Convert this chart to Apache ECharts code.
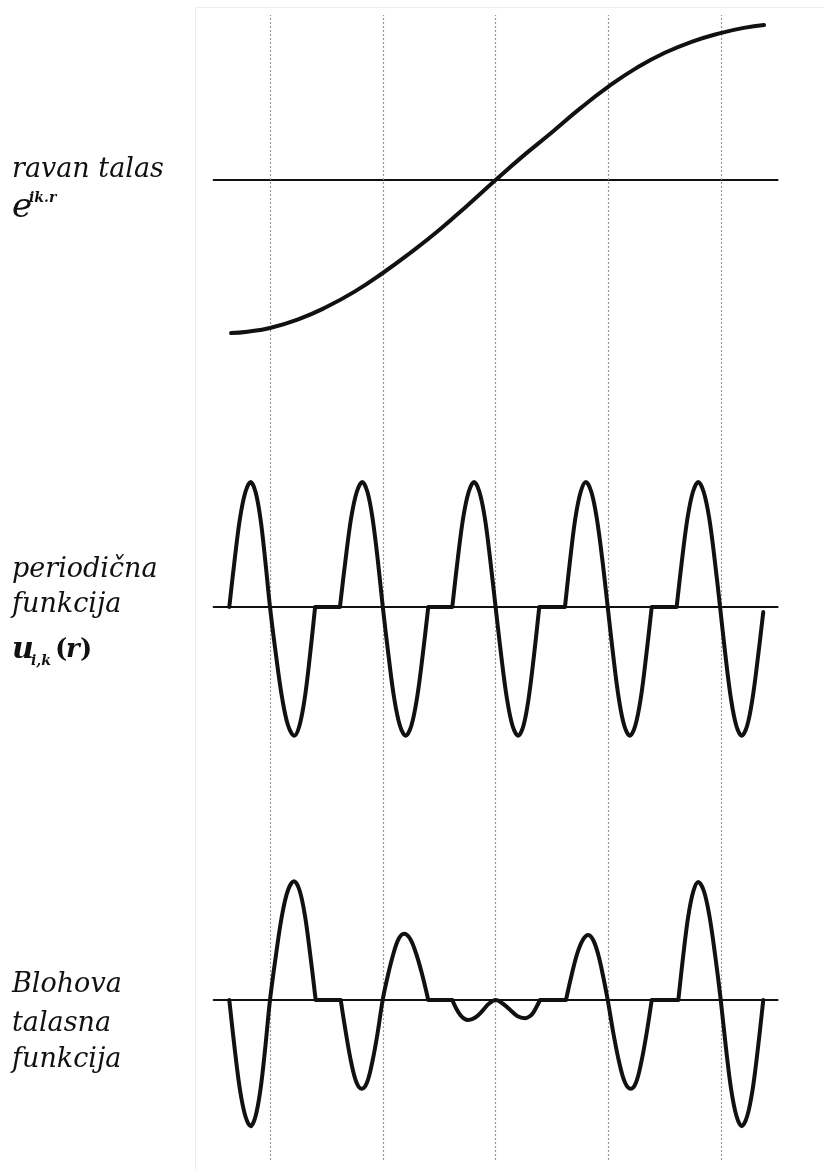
<!DOCTYPE html>
<html>
<head>
<meta charset="utf-8">
<script src="https://cdn.jsdelivr.net/npm/echarts@6/dist/echarts.min.js"></script>
<style>
  html, body { margin: 0; padding: 0; background: #fff; }
  #chart { width: 824px; height: 1171px; }
</style>
</head>
<body>
<div id="chart"></div>
<script>
// ---- data (x in lattice units: vertical lines at 1..5) ----
const gridlineX = [1, 2, 3, 4, 5];

// plane wave e^{ik.r} (real part), normalised amplitude
const planeWaveX = [0.655, 0.8, 1.0, 1.25, 1.5, 1.75, 2.0, 2.25, 2.5, 2.75, 3.0, 3.25, 3.5, 3.75, 4.0, 4.25, 4.5, 4.75, 5.0, 5.2, 5.38];
const planeWaveY = [-0.994, -0.985, -0.961, -0.905, -0.825, -0.725, -0.604, -0.47, -0.325, -0.165, 0, 0.16, 0.31, 0.465, 0.606, 0.728, 0.826, 0.9, 0.955, 0.988, 1.006];

// periodic function u_{i,k}(r); null separates drawn pieces
const periodicX = [
  0.639, 0.687, 0.734, 0.782, 0.829, 0.872, 0.915, 0.957, 1.0, 1.054, 1.108, 1.161, 1.215, 1.261, 1.308, 1.354, 1.40, null,
  1.40, 1.62, null,
  1.62, 1.67, 1.719, 1.769, 1.818, 1.864, 1.909, 1.955, 2.0, 2.051, 2.101, 2.152, 2.203, 2.253, 2.303, 2.353, 2.403, null,
  2.403, 2.616, null,
  2.616, 2.664, 2.712, 2.761, 2.809, 2.857, 2.905, 2.952, 3.0, 3.05, 3.10, 3.15, 3.20, 3.247, 3.293, 3.34, 3.387, null,
  3.387, 3.615, null,
  3.615, 3.661, 3.707, 3.754, 3.80, 3.849, 3.897, 3.946, 3.994, 4.043, 4.092, 4.141, 4.19, 4.238, 4.287, 4.335, 4.384, null,
  4.384, 4.605, null,
  4.605, 4.653, 4.701, 4.749, 4.797, 4.845, 4.894, 4.942, 4.99, 5.038, 5.086, 5.134, 5.182, 5.23, 5.278, 5.326, 5.373
];
const periodicY = [
  0, 0.38, 0.71, 0.92, 1.0, 0.92, 0.71, 0.38, 0, -0.39, -0.73, -0.95, -1.03, -0.95, -0.73, -0.39, 0, null,
  0, 0, null,
  0, 0.38, 0.71, 0.92, 1.0, 0.92, 0.71, 0.38, 0, -0.39, -0.73, -0.95, -1.03, -0.95, -0.73, -0.39, 0, null,
  0, 0, null,
  0, 0.38, 0.71, 0.92, 1.0, 0.92, 0.71, 0.38, 0, -0.39, -0.73, -0.95, -1.03, -0.95, -0.73, -0.39, 0, null,
  0, 0, null,
  0, 0.38, 0.71, 0.92, 1.0, 0.92, 0.71, 0.38, 0, -0.39, -0.73, -0.95, -1.03, -0.95, -0.73, -0.39, 0, null,
  0, 0, null,
  0, 0.38, 0.71, 0.92, 1.0, 0.92, 0.71, 0.38, 0, -0.39, -0.73, -0.95, -1.03, -0.95, -0.73, -0.40, -0.04
];

// Bloch wave function
const blochX = [
  0.639, 0.687, 0.734, 0.782, 0.829, 0.872, 0.915, 0.957, 1.0, 1.053, 1.107, 1.16, 1.213, 1.261, 1.309, 1.357, 1.405, null,
  1.405, 1.627, null,
  1.627, 1.674, 1.72, 1.767, 1.813, 1.86, 1.906, 1.953, 1.999, 2.046, 2.094, 2.141, 2.188, 2.242, 2.296, 2.35, 2.403, null,
  2.403, 2.616, null,
  2.616, 2.652, 2.687, 2.723, 2.758, 2.82, 2.88, 2.94, 3.0, 3.065, 3.13, 3.195, 3.26, 3.294, 3.327, 3.36, 3.394, null,
  3.394, 3.624, null,
  3.624, 3.674, 3.723, 3.773, 3.822, 3.865, 3.908, 3.951, 3.994, 4.045, 4.096, 4.147, 4.198, 4.245, 4.291, 4.338, 4.384, null,
  4.384, 4.62, null,
  4.62, 4.664, 4.708, 4.753, 4.797, 4.847, 4.896, 4.946, 4.996, 5.043, 5.089, 5.136, 5.182, 5.23, 5.278, 5.325, 5.373
];
const blochY = [
  0, -0.39, -0.72, -0.93, -1.01, -0.93, -0.72, -0.39, 0, 0.36, 0.68, 0.88, 0.95, 0.88, 0.68, 0.36, 0, null,
  0, 0, null,
  0, -0.27, -0.5, -0.66, -0.71, -0.66, -0.5, -0.27, 0, 0.2, 0.37, 0.49, 0.53, 0.49, 0.37, 0.2, 0, null,
  0, 0, null,
  0, -0.07, -0.12, -0.15, -0.16, -0.14, -0.09, -0.03, 0, -0.03, -0.08, -0.13, -0.145, -0.135, -0.11, -0.06, 0, null,
  0, 0, null,
  0, 0.2, 0.37, 0.48, 0.52, 0.48, 0.37, 0.2, 0, -0.27, -0.5, -0.66, -0.71, -0.66, -0.5, -0.27, 0, null,
  0, 0, null,
  0, 0.36, 0.67, 0.87, 0.944, 0.87, 0.67, 0.36, 0, -0.39, -0.72, -0.93, -1.01, -0.93, -0.72, -0.39, 0
];

function pairs(xs, ys) {
  return xs.map((x, i) => (x === null ? ['-', '-'] : [x, ys[i]]));
}

const INK = '#111';
const LEFT = 213.6, WIDTH = 564;

function xAx(gi, showLine) {
  return {
    gridIndex: gi, type: 'value', min: 0.5, max: 5.5,
    axisLine: { show: showLine, onZero: true, lineStyle: { color: INK, width: 2 } },
    axisTick: { show: false }, axisLabel: { show: false }, splitLine: { show: false }
  };
}
function yAx(gi, mn, mx) {
  return {
    gridIndex: gi, type: 'value', min: mn, max: mx,
    axisLine: { show: false }, axisTick: { show: false },
    axisLabel: { show: false }, splitLine: { show: false }
  };
}
function curve(gi, data, smooth) {
  return {
    type: 'line', xAxisIndex: gi, yAxisIndex: gi, data: data,
    smooth: smooth, symbol: 'none', showSymbol: false, connectNulls: false,
    lineStyle: { color: INK, width: 4, cap: 'round', join: 'round' },
    z: 5, silent: true
  };
}

const serif = '"DejaVu Serif", "Liberation Serif", serif';
function txt(x, y, text, size, extra) {
  return {
    type: 'text', x: x, y: y, silent: true, z: 10,
    style: Object.assign({
      text: text, fill: '#111', font: 'italic ' + size + 'px ' + serif,
      verticalAlign: 'middle', align: 'left'
    }, extra || {})
  };
}

const chart = echarts.init(document.getElementById('chart'), null, { renderer: 'canvas' });
chart.setOption({
  animation: false,
  backgroundColor: '#fff',
  grid: [
    { left: LEFT, width: WIDTH, top: 10.6, height: 338.8 },
    { left: LEFT, width: WIDTH, top: 457, height: 300 },
    { left: LEFT, width: WIDTH, top: 850, height: 300 },
    { left: LEFT, width: WIDTH, top: 15, height: 1145 }
  ],
  xAxis: [xAx(0, true), xAx(1, true), xAx(2, true), xAx(3, false)],
  yAxis: [yAx(0, -1.1, 1.1), yAx(1, -1.2, 1.2), yAx(2, -1.2, 1.2), yAx(3, 0, 1)],
  series: [
    {
      type: 'line', xAxisIndex: 3, yAxisIndex: 3, data: [[1, 0.5]],
      symbol: 'none', showSymbol: false, lineStyle: { opacity: 0 }, silent: true, z: 1,
      markLine: {
        silent: true, symbol: ['none', 'none'], label: { show: false },
        lineStyle: { type: [2, 2], color: '#999999', width: 1.2 },
        data: gridlineX.map(v => ({ xAxis: v }))
      }
    },
    curve(0, pairs(planeWaveX, planeWaveY), 0.5),
    curve(1, pairs(periodicX, periodicY), 0.35),
    curve(2, pairs(blochX, blochY), 0.35)
  ],
  graphic: [
    { type: 'rect', silent: true, z: 0, shape: { x: 195.5, y: 7.5, width: 700, height: 1200 },
      style: { fill: 'none', stroke: '#eeeeee', lineWidth: 1 } },
    txt(12, 170, 'ravan talas', 27),
    txt(12, 208, 'e', 34),
    txt(29, 198, 'ik.r', 14, { font: 'italic bold 14px ' + serif }),
    txt(12, 570, 'periodična', 27),
    txt(12, 605, 'funkcija', 27),
    txt(12, 650, 'u', 30, { font: 'italic bold 30px ' + serif }),
    txt(31, 661, 'i,k', 14, { font: 'italic bold 14px ' + serif }),
    txt(55, 650, '(', 26, { font: 'bold 26px ' + serif }),
    txt(66, 650, 'r', 26, { font: 'italic bold 26px ' + serif }),
    txt(80, 650, ')', 26, { font: 'bold 26px ' + serif }),
    txt(12, 985, 'Blohova', 27),
    txt(12, 1024, 'talasna', 27),
    txt(12, 1060, 'funkcija', 27)
  ]
});
</script>
</body>
</html>
